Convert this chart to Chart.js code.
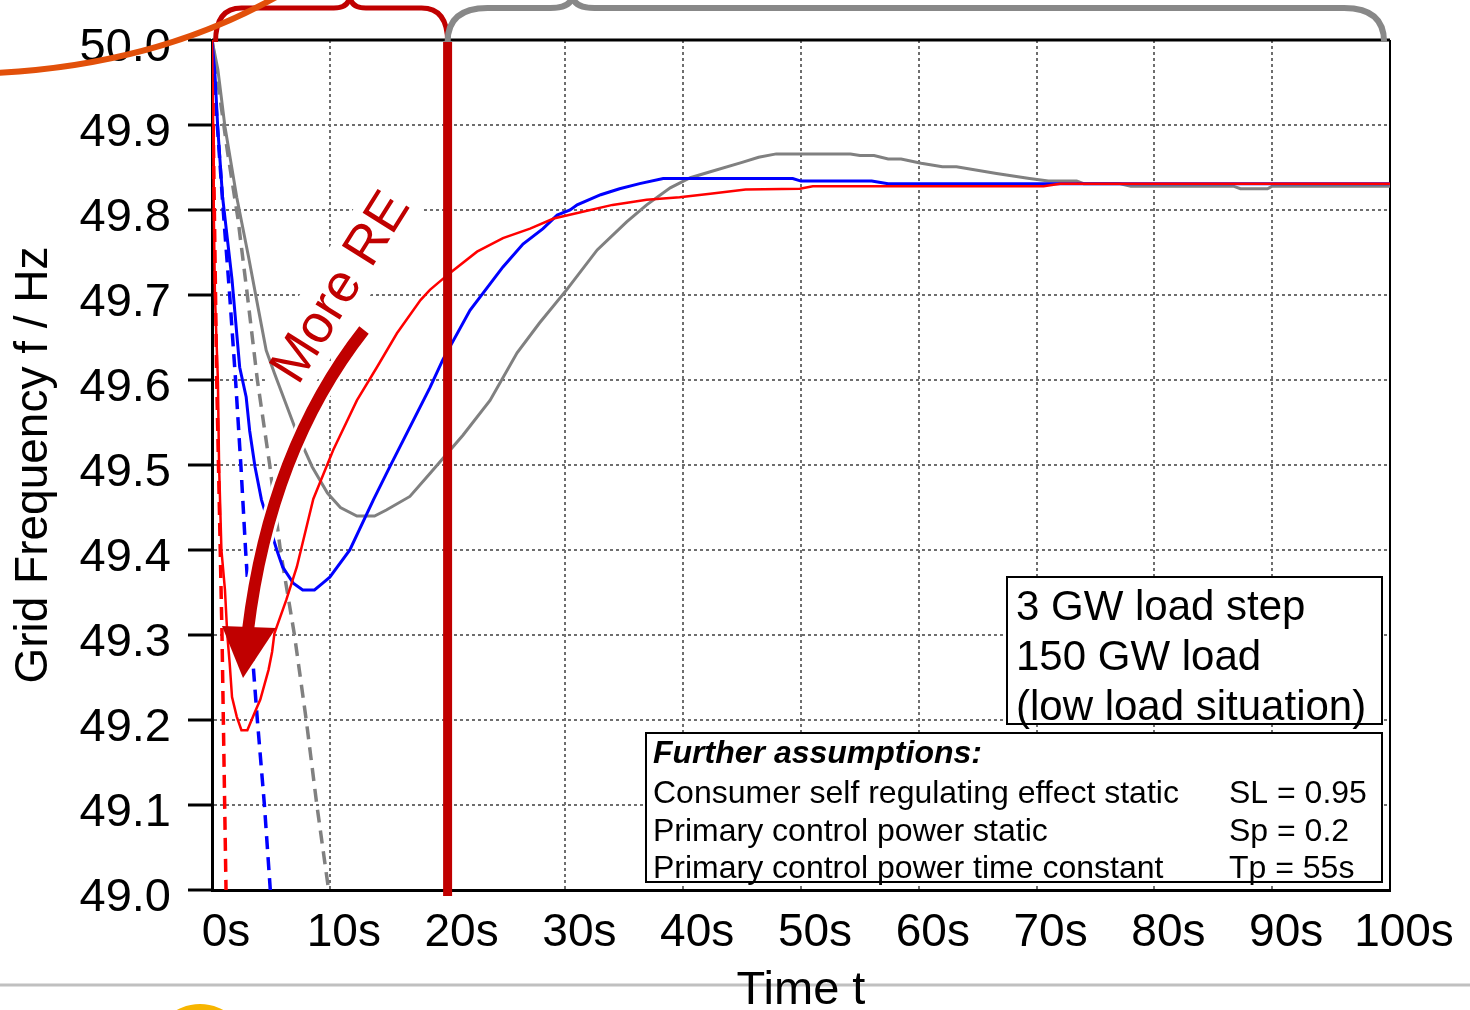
<!DOCTYPE html>
<html>
<head>
<meta charset="utf-8">
<script src="https://cdn.jsdelivr.net/npm/chart.js@4.4.0/dist/chart.umd.min.js"></script>
<style>
  html, body { margin: 0; padding: 0; background: #fff; }
  #wrap { width: 1470px; height: 1010px; position: relative; }
</style>
</head>
<body>
<div id="wrap"><canvas id="grafico" width="1470" height="1010"></canvas></div>
<script>
// rótulos dos eixos
const xTickLabels = ['0s', '10s', '20s', '30s', '40s', '50s', '60s', '70s', '80s', '90s', '100s'];
const yTickLabels = ['49.0', '49.1', '49.2', '49.3', '49.4', '49.5', '49.6', '49.7', '49.8', '49.9', '50.0'];

// vermelho (mais RE) - sólido
const tempoVermelho = [0, 0.1, 0.15, 0.25, 0.5, 0.6, 0.8, 1.1, 1.3, 1.5, 1.7, 2.1, 2.5, 3.0, 3.6, 4.1, 4.8, 5.1, 5.3, 6.3, 7.2, 8.6, 10.3, 12.3, 14.0, 15.7, 17.7, 18.5, 20.2, 22.5, 24.7, 27.0, 29.0, 31.2, 34.0, 36.9, 39.7, 42.3, 45.3, 49.9, 51.0, 70.6, 72.0, 100];
const freqVermelho = [50.0, 49.9, 49.8, 49.7, 49.6, 49.5, 49.4, 49.353, 49.3, 49.267, 49.227, 49.204, 49.188, 49.188, 49.208, 49.224, 49.259, 49.28, 49.302, 49.341, 49.38, 49.46, 49.518, 49.576, 49.615, 49.655, 49.694, 49.706, 49.726, 49.751, 49.767, 49.778, 49.79, 49.797, 49.806, 49.812, 49.815, 49.819, 49.824, 49.825, 49.828, 49.828, 49.831, 49.831];

// azul - sólido
const tempoAzul = [0, 0.25, 0.5, 0.9, 1.7, 2.35, 2.9, 3.2, 3.65, 4.2, 5.5, 6.0, 6.9, 7.7, 8.7, 9.4, 10.0, 11.7, 13.7, 15.1, 18.5, 19.6, 21.9, 24.7, 26.4, 28.1, 29.3, 30.4, 31.0, 33.0, 34.6, 36.3, 38.3, 49.3, 50.0, 56.0, 57.4, 100];
const freqAzul = [50.0, 49.96, 49.894, 49.815, 49.718, 49.615, 49.58, 49.54, 49.498, 49.459, 49.4, 49.38, 49.361, 49.353, 49.353, 49.361, 49.368, 49.4, 49.459, 49.498, 49.591, 49.624, 49.682, 49.733, 49.76, 49.778, 49.794, 49.8, 49.806, 49.818, 49.825, 49.831, 49.837, 49.837, 49.834, 49.834, 49.831, 49.831];

// cinza - sólido
const tempoCinza = [0, 0.5, 1.1, 2.1, 3.1, 3.9, 4.6, 5.3, 7.2, 8.5, 9.8, 10.9, 12.3, 13.8, 14.8, 16.8, 18.5, 21.3, 23.6, 25.9, 27.8, 30.1, 32.7, 35.2, 36.9, 38.9, 40.6, 42.3, 45.0, 46.4, 47.9, 54.2, 55.0, 56.2, 57.4, 58.5, 60.2, 62.0, 63.2, 66.6, 69.4, 71.0, 73.4, 74.0, 77.0, 78.0, 86.7, 87.3, 89.6, 90.0, 100];
const freqCinza = [50.0, 49.965, 49.898, 49.815, 49.745, 49.686, 49.635, 49.608, 49.538, 49.498, 49.467, 49.45, 49.44, 49.44, 49.447, 49.463, 49.49, 49.535, 49.576, 49.632, 49.667, 49.706, 49.753, 49.786, 49.806, 49.826, 49.838, 49.845, 49.856, 49.862, 49.866, 49.866, 49.864, 49.864, 49.86, 49.86, 49.855, 49.851, 49.851, 49.843, 49.837, 49.834, 49.834, 49.831, 49.831, 49.828, 49.828, 49.825, 49.825, 49.828, 49.828];

// tracejadas (sem regulação)
const tempoVermelhoTrac = [0, 0.4, 0.85, 1.19];
const freqVermelhoTrac = [50.0, 49.6, 49.3, 49.0];
const tempoAzulTrac = [0, 0.45, 0.95, 1.5, 2.0, 2.45, 2.85, 3.3, 3.85, 4.45, 4.95];
const freqAzulTrac = [50.0, 49.9, 49.8, 49.7, 49.6, 49.5, 49.4, 49.3, 49.2, 49.1, 49.0];
const tempoCinzaTrac = [0, 1.3, 2.2, 3.0, 3.85, 4.9, 5.8, 7.0, 8.0, 8.9, 9.9];
const freqCinzaTrac = [50.0, 49.87, 49.79, 49.7, 49.6, 49.5, 49.4, 49.3, 49.2, 49.1, 49.0];

const FONTE = "'Liberation Sans', Arial, sans-serif";
const VERMELHO_ESCURO = '#c00000';

function serie(t, f) {
  return t.map((x, i) => ({ x: x, y: f[i] }));
}

const decoracao = {
  id: 'decoracao',
  beforeDraw(chart) {
    const ctx = chart.ctx;
    ctx.save();
    // linha cinza do slide e círculo amarelo
    ctx.strokeStyle = '#c0c0c0';
    ctx.lineWidth = 3;
    ctx.beginPath();
    ctx.moveTo(0, 985);
    ctx.lineTo(1470, 985);
    ctx.stroke();
    ctx.fillStyle = '#f7b500';
    ctx.beginPath();
    ctx.arc(200, 1052, 48, 0, Math.PI * 2);
    ctx.fill();
    ctx.restore();
  },
  beforeDatasetsDraw(chart) {
    const { ctx, chartArea } = chart;
    ctx.save();
    // fundo branco atrás do texto "More RE"
    ctx.translate(340, 287);
    ctx.rotate(-58 * Math.PI / 180);
    ctx.fillStyle = '#fff';
    ctx.fillRect(-118, -30, 236, 60);
    ctx.restore();

    ctx.save();
    ctx.strokeStyle = '#000';
    ctx.lineWidth = 3;
    ctx.beginPath();
    ctx.moveTo(chartArea.left, chartArea.top);
    ctx.lineTo(chartArea.right, chartArea.top);
    ctx.stroke();
    ctx.lineWidth = 2;
    ctx.beginPath();
    ctx.moveTo(chartArea.right, chartArea.top);
    ctx.lineTo(chartArea.right, chartArea.bottom);
    ctx.stroke();
    ctx.restore();
  },
  afterDatasetsDraw(chart) {
    const { ctx, chartArea } = chart;
    const xs = chart.scales.x;
    const top = chartArea.top;
    ctx.save();

    // linha vertical em 20s
    const x20 = xs.getPixelForValue(20);
    ctx.strokeStyle = VERMELHO_ESCURO;
    ctx.lineWidth = 9;
    ctx.beginPath();
    ctx.moveTo(x20, top + 2);
    ctx.lineTo(x20, chartArea.bottom + 6);
    ctx.stroke();

    // chaves
    function chave(a, b, m, cor, largura, r, r2) {
      const x0 = xs.getPixelForValue(a), x1 = xs.getPixelForValue(b), xm = xs.getPixelForValue(m);
      const yb = top + 2, yh = top - 32, yt = top - 46;
      ctx.strokeStyle = cor;
      ctx.lineWidth = largura;
      ctx.beginPath();
      ctx.moveTo(x0, yb);
      ctx.quadraticCurveTo(x0, yh, x0 + r, yh);
      ctx.lineTo(xm - r2, yh);
      ctx.quadraticCurveTo(xm, yh, xm, yt);
      ctx.quadraticCurveTo(xm, yh, xm + r2, yh);
      ctx.lineTo(x1 - r, yh);
      ctx.quadraticCurveTo(x1, yh, x1, yb);
      ctx.stroke();
    }
    chave(0.3, 20, 11.7, VERMELHO_ESCURO, 5, 26, 16);
    chave(20, 99.5, 30.6, '#888888', 6, 40, 22);

    // seta "More RE"
    ctx.lineCap = 'butt';
    ctx.strokeStyle = '#fff';
    ctx.lineWidth = 18;
    ctx.beginPath();
    ctx.moveTo(364, 330);
    ctx.quadraticCurveTo(270, 450, 248, 630);
    ctx.stroke();
    ctx.strokeStyle = VERMELHO_ESCURO;
    ctx.lineWidth = 12;
    ctx.beginPath();
    ctx.moveTo(364, 330);
    ctx.quadraticCurveTo(270, 450, 248, 630);
    ctx.stroke();
    ctx.fillStyle = VERMELHO_ESCURO;
    ctx.beginPath();
    ctx.moveTo(222, 626);
    ctx.lineTo(276, 628);
    ctx.lineTo(243, 678);
    ctx.closePath();
    ctx.fill();

    ctx.save();
    ctx.translate(340, 287);
    ctx.rotate(-58 * Math.PI / 180);
    ctx.font = '54px ' + FONTE;
    ctx.textAlign = 'center';
    ctx.textBaseline = 'middle';
    ctx.fillStyle = VERMELHO_ESCURO;
    ctx.fillText('More RE', 0, 2);
    ctx.restore();

    // curva laranja do slide
    ctx.strokeStyle = '#e2500a';
    ctx.lineWidth = 6;
    ctx.beginPath();
    ctx.moveTo(-5, 73);
    ctx.quadraticCurveTo(160, 65, 285, -8);
    ctx.stroke();

    // caixas de texto
    ctx.fillStyle = '#fff';
    ctx.strokeStyle = '#000';
    ctx.lineWidth = 2;
    ctx.fillRect(1007, 577, 375, 147);
    ctx.strokeRect(1007, 577, 375, 147);
    ctx.fillRect(646, 733, 736, 149);
    ctx.strokeRect(646, 733, 736, 149);

    ctx.fillStyle = '#000';
    ctx.textAlign = 'left';
    ctx.textBaseline = 'alphabetic';
    ctx.font = '42px ' + FONTE;
    ctx.fillText('3 GW load step', 1016, 620);
    ctx.fillText('150 GW load', 1016, 670);
    ctx.fillText('(low load situation)', 1016, 720);

    ctx.font = 'italic bold 32px ' + FONTE;
    ctx.fillText('Further assumptions:', 653, 763);
    ctx.font = '32px ' + FONTE;
    ctx.fillText('Consumer self regulating effect static', 653, 803);
    ctx.fillText('Primary control power static', 653, 841);
    ctx.fillText('Primary control power time constant', 653, 878);
    ctx.fillText('SL = 0.95', 1229, 803);
    ctx.fillText('Sp = 0.2', 1229, 841);
    ctx.fillText('Tp = 55s', 1229, 878);

    ctx.restore();
  }
};

const ctx = document.getElementById('grafico').getContext('2d');

new Chart(ctx, {
  type: 'line',
  data: {
    datasets: [
      { data: serie(tempoVermelho, freqVermelho), borderColor: '#ff0000', borderWidth: 2.5 },
      { data: serie(tempoAzul, freqAzul), borderColor: '#0000ff', borderWidth: 3 },
      { data: serie(tempoCinza, freqCinza), borderColor: '#808080', borderWidth: 3 },
      { data: serie(tempoVermelhoTrac, freqVermelhoTrac), borderColor: '#ff0000', borderWidth: 3.5, borderDash: [13, 8] },
      { data: serie(tempoAzulTrac, freqAzulTrac), borderColor: '#0000ff', borderWidth: 3.5, borderDash: [13, 8] },
      { data: serie(tempoCinzaTrac, freqCinzaTrac), borderColor: '#808080', borderWidth: 3.5, borderDash: [13, 8] }
    ]
  },
  options: {
    responsive: false,
    animation: false,
    layout: { padding: { left: 0, right: 80, top: 40, bottom: 0 } },
    elements: { point: { radius: 0 }, line: { tension: 0, fill: false } },
    plugins: { legend: { display: false }, tooltip: { enabled: false } },
    scales: {
      x: {
        type: 'linear',
        min: 0,
        max: 100,
        afterFit: s => { s.height = 120; },
        ticks: {
          stepSize: 10,
          autoSkip: false,
          maxRotation: 0,
          color: '#000',
          padding: 16,
          labelOffset: 14,
          font: { family: FONTE, size: 46 },
          callback: (v, i) => xTickLabels[i]
        },
        grid: { color: '#6e6e6e', lineWidth: 2, drawTicks: false },
        border: { color: '#000', width: 3, dash: [3, 3] },
        title: {
          display: true,
          text: 'Time t',
          color: '#000',
          font: { family: FONTE, size: 47, lineHeight: 0.8 },
          padding: { top: 0, bottom: 0 }
        }
      },
      y: {
        min: 49,
        max: 50,
        afterFit: s => { s.width = 212; },
        ticks: {
          stepSize: 0.1,
          color: '#000',
          padding: 17,
          labelOffset: 8,
          font: { family: FONTE, size: 47, lineHeight: 0.8 },
          callback: (v, i) => yTickLabels[i]
        },
        grid: { color: '#6e6e6e', lineWidth: 2, tickColor: '#000', tickLength: 24, tickWidth: 3, tickBorderDash: [] },
        border: { color: '#000', width: 3, dash: [3, 3] },
        title: {
          display: true,
          text: 'Grid Frequency f / Hz',
          color: '#000',
          font: { family: FONTE, size: 46 },
          padding: { top: 7, bottom: 0 }
        }
      }
    }
  },
  plugins: [decoracao]
});
</script>
</body>
</html>
